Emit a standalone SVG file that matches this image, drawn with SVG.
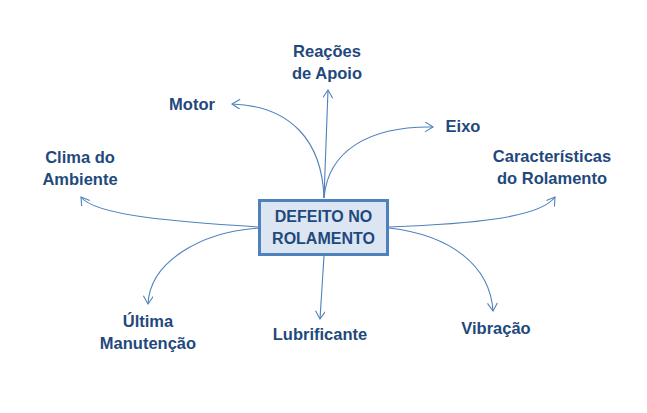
<svg xmlns="http://www.w3.org/2000/svg" width="647" height="413" viewBox="0 0 647 413">
<defs>
<style>
.lbl{font-family:"Liberation Sans",Arial,sans-serif;font-weight:bold;font-size:16.5px;fill:#1F497D;text-anchor:middle}
.con{fill:none;stroke:#4F81BD;stroke-width:1.1;marker-end:url(#arr)}
</style>
<marker id="arr" markerWidth="12" markerHeight="12" refX="9" refY="5" orient="auto" markerUnits="userSpaceOnUse">
<path d="M1,0 L9,5 L1,10" fill="none" stroke="#4F81BD" stroke-width="1.1"/>
</marker>
</defs>
<rect width="647" height="413" fill="#ffffff"/>
<g id="connectors">
<path class="con" d="M324,198 C322,140 290,106 232,104"/>
<path class="con" d="M324,198 L328,90"/>
<path class="con" d="M324,198 C328,150 370,126 433,127"/>
<path class="con" d="M259,227 C180,222 95,216 81,197"/>
<path class="con" d="M389,227 C470,224 540,218 555,197"/>
<path class="con" d="M259,228 C200,232 150,262 148,304"/>
<path class="con" d="M324,256 L320,319"/>
<path class="con" d="M389,228 C450,235 490,265 493,311"/>
</g>
<g id="center">
<rect x="259.5" y="200.5" width="128" height="54" fill="#DCE6F2" stroke="#4F81BD" stroke-width="3"/>
<text class="lbl" x="323.5" y="222" style="font-size:16px">DEFEITO NO</text>
<text class="lbl" x="323.5" y="244" style="font-size:16px">ROLAMENTO</text>
</g>
<g id="reacoes"><text class="lbl" x="327" y="57">Reações</text><text class="lbl" x="327" y="79">de Apoio</text></g>
<g id="motor"><text class="lbl" x="192" y="110">Motor</text></g>
<g id="eixo"><text class="lbl" x="463" y="132">Eixo</text></g>
<g id="clima"><text class="lbl" x="80" y="163">Clima do</text><text class="lbl" x="80" y="185">Ambiente</text></g>
<g id="caracteristicas"><text class="lbl" x="552" y="162">Características</text><text class="lbl" x="552" y="184">do Rolamento</text></g>
<g id="ultima"><text class="lbl" x="148" y="327">Última</text><text class="lbl" x="148" y="349">Manutenção</text></g>
<g id="lubrificante"><text class="lbl" x="320" y="340">Lubrificante</text></g>
<g id="vibracao"><text class="lbl" x="496" y="334">Vibração</text></g>
</svg>
